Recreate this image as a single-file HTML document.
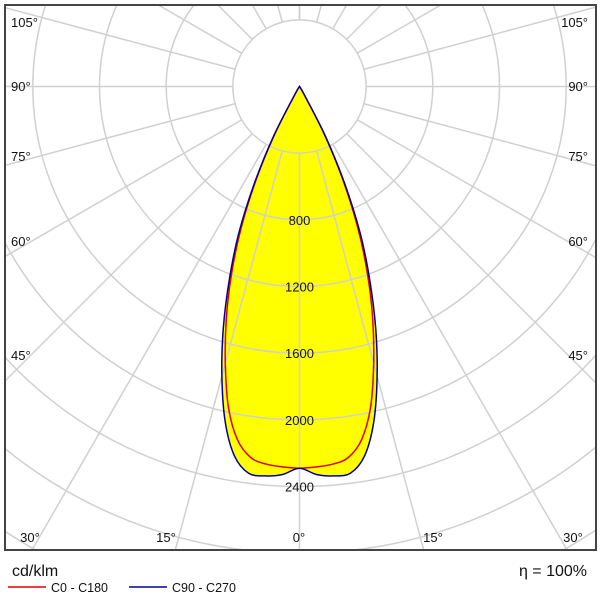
<!DOCTYPE html>
<html><head><meta charset="utf-8"><style>
html,body{margin:0;padding:0;background:#fff;width:600px;height:600px;overflow:hidden;font-family:"Liberation Sans",sans-serif}
svg{display:block}
</style></head><body>
<svg id="chart" width="600" height="600" viewBox="0 0 600 600">
<defs><clipPath id="box"><rect x="5" y="5" width="591" height="545"/></clipPath></defs>
<rect x="5" y="5" width="591" height="545" fill="#fff"/>
<g id="fills" clip-path="url(#box)"></g>
<g id="grid" clip-path="url(#box)"></g>
<g id="curves" clip-path="url(#box)"></g>
<g id="labels" font-size="13" fill="#111"></g>
<rect x="5" y="5" width="591" height="545" fill="none" stroke="#444" stroke-width="2"/>
<text x="12" y="576" font-size="16" fill="#111">cd/klm</text>
<line x1="8" y1="587" x2="46" y2="587" stroke="#e00000" stroke-width="1.5"/>
<text x="51" y="592" font-size="12.5" fill="#111">C0 - C180</text>
<line x1="129" y1="587" x2="167" y2="587" stroke="#000099" stroke-width="1.5"/>
<text x="172" y="592" font-size="12.5" fill="#111">C90 - C270</text>
<text x="587" y="576" font-size="16" fill="#111" text-anchor="end">η = 100%</text>
</svg>
<script>
const gammaAngles=[0,2.5,5,7.5,10,12.5,15,17.5,20,22.5,25,27.5,30,32.5];
const c0Values=[2290,2285,2275,2245,2150,1970,1720,1460,1190,910,610,320,50,0];
const c90Values=[2290,2330,2345,2340,2250,2060,1800,1520,1230,950,640,340,60,0];
const ringValues=[400,800,1200,1600,2000,2400,2800,3200,3600];
const ringLabels=[800,1200,1600,2000,2400];
const spokeAngles=[15,30,45,60,75,90,105,120,135,150,165,180];
const sideLabels=['105°','90°','75°','60°','45°'];
const bottomLabels=['30°','15°','0°','15°','30°'];

const sideLabelY=[22,86,156,241,355];
const bottomLabelX=[30,166,299,433,573];
const cx=299.5, cy=86.5, pxPer=66.67/400;
const NS='http://www.w3.org/2000/svg';
function r(v){return v*pxPer;}
function pt(g,v,side){const a=g*Math.PI/180;return [cx+side*r(v)*Math.sin(a), cy+r(v)*Math.cos(a)];}
function mk(tag,attrs,parent){const e=document.createElementNS(NS,tag);for(const k in attrs)e.setAttribute(k,attrs[k]);parent.appendChild(e);return e;}
function pathFor(vals){
  let pts=[];
  for(let i=gammaAngles.length-1;i>=1;i--)pts.push(pt(gammaAngles[i],vals[i],-1));
  for(let i=0;i<gammaAngles.length;i++)pts.push(pt(gammaAngles[i],vals[i],1));
  let d='M'+pts[0][0].toFixed(1)+','+pts[0][1].toFixed(1);
  for(let i=0;i<pts.length-1;i++){
    const p0=pts[Math.max(0,i-1)],p1=pts[i],p2=pts[i+1],p3=pts[Math.min(pts.length-1,i+2)];
    const c1=[p1[0]+(p2[0]-p0[0])/6,p1[1]+(p2[1]-p0[1])/6];
    const c2=[p2[0]-(p3[0]-p1[0])/6,p2[1]-(p3[1]-p1[1])/6];
    d+='C'+c1[0].toFixed(1)+','+c1[1].toFixed(1)+' '+c2[0].toFixed(1)+','+c2[1].toFixed(1)+' '+p2[0].toFixed(1)+','+p2[1].toFixed(1);
  }
  return d+'Z';
}
const fills=document.getElementById('fills'),grid=document.getElementById('grid'),curves=document.getElementById('curves'),labels=document.getElementById('labels');
[c90Values,c0Values].forEach(v=>{
  const f=mk('path',{d:pathFor(v),fill:'#ffff00',stroke:'none'},fills);
  
  
});
ringValues.forEach(v=>{
  const c=mk('circle',{cx:cx,cy:cy,r:r(v),fill:'none',stroke:'#d0d0d0','stroke-width':1.5},grid);
  
  
});
const r0=r(ringValues[0]);
spokeAngles.forEach(g=>{
  [-1,1].forEach(s=>{
    const a=g*Math.PI/180;
    const l=mk('line',{x1:cx+s*r0*Math.sin(a),y1:cy+r0*Math.cos(a),x2:cx+s*900*Math.sin(a),y2:cy+900*Math.cos(a),stroke:'#d0d0d0','stroke-width':1.5},grid);
    
    
  });
});
const l0=mk('line',{x1:cx,y1:cy+r0,x2:cx,y2:560,stroke:'#d0d0d0','stroke-width':1.5},grid);


[[c0Values,'#e00000','curve-c0-c180'],[c90Values,'#000099','curve-c90-c270']].forEach(([v,col,n])=>{
  const p=mk('path',{d:pathFor(v),fill:'none',stroke:col,'stroke-width':1.5},curves);
  
  
});
ringLabels.forEach(v=>{
  const t=mk('text',{x:cx,y:cy+r(v)+5,'text-anchor':'middle'},labels);
  t.textContent=v;
  
  
});
sideLabels.forEach((g,i)=>{
  const y=sideLabelY[i];
  const t1=mk('text',{x:11,y:y+5},labels);t1.textContent=g;
  
  
  const t2=mk('text',{x:588,y:y+5,'text-anchor':'end'},labels);t2.textContent=g;
  
  
});
bottomLabels.forEach((g,i)=>{
  const t=mk('text',{x:bottomLabelX[i],y:542,'text-anchor':'middle'},labels);t.textContent=g;
  
  
});
</script>
</body></html>
